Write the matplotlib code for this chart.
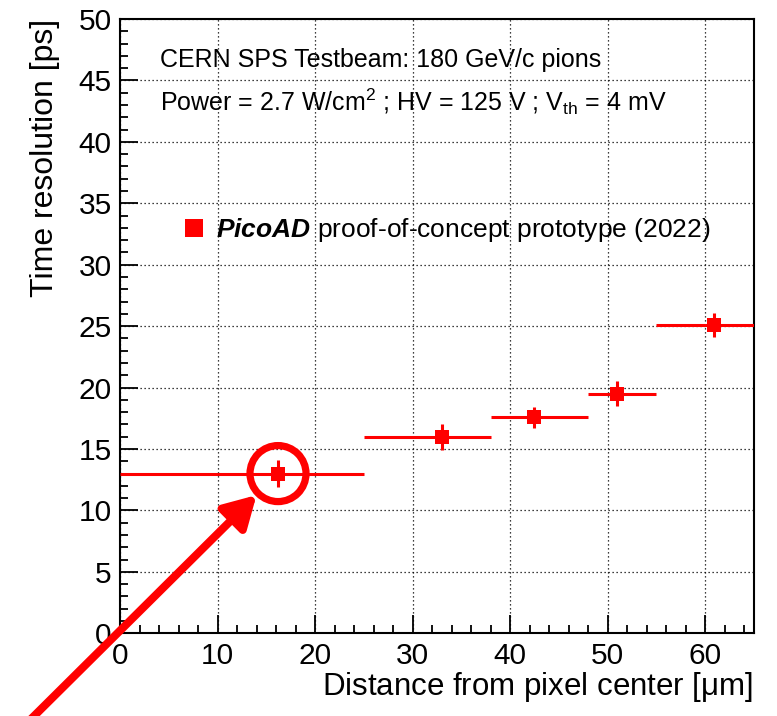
import matplotlib
matplotlib.use("Agg")
import matplotlib.pyplot as plt
from matplotlib.lines import Line2D
from matplotlib.patches import Ellipse
from matplotlib.ticker import MultipleLocator
import numpy as np

plt.rcParams['font.family'] = ['Liberation Sans', 'DejaVu Sans']
plt.rcParams['mathtext.fontset'] = 'custom'
plt.rcParams['mathtext.rm'] = 'Liberation Sans'
plt.rcParams['mathtext.it'] = 'Liberation Sans:italic'
plt.rcParams['mathtext.bf'] = 'Liberation Sans:bold'
plt.rcParams['mathtext.bfit'] = 'Liberation Sans:italic:bold'

# Time resolution versus distance from the pixel centre (bins in um)
distance = np.array([16.2, 33.0, 42.4, 51.0, 60.9])
bin_low = np.array([0.0, 25.0, 38.0, 48.0, 55.0])
bin_high = np.array([25.0, 38.0, 48.0, 55.0, 65.0])
resolution = np.array([13.0, 16.0, 17.6, 19.5, 25.1])
resolution_err = np.array([1.1, 1.05, 0.85, 1.0, 1.0])

RED = '#ff0000'

fig = plt.figure(figsize=(7.77, 7.16), dpi=100)
W, H = 777, 716
ax = fig.add_axes([120 / W, 1 - 633.3 / H, (754 - 120) / W, (633.3 - 19) / H])

ax.errorbar(distance, resolution,
            xerr=[distance - bin_low, bin_high - distance],
            yerr=resolution_err,
            fmt='s', color=RED, ms=10, elinewidth=2.2, capsize=0,
            markeredgewidth=0, zorder=3)

ax.set_xlim(0, 65)
ax.set_ylim(0, 50)

ax.xaxis.set_major_locator(MultipleLocator(10))
ax.xaxis.set_minor_locator(MultipleLocator(2))
ax.yaxis.set_major_locator(MultipleLocator(5))
ax.yaxis.set_minor_locator(MultipleLocator(1))
ax.tick_params(which='both', direction='in', top=False, right=False,
               width=1.3, labelsize=21.5, pad=6)
ax.tick_params(which='major', length=13)
ax.tick_params(which='minor', length=6)
for s in ax.spines.values():
    s.set_linewidth(1.5)

ax.grid(True, which='major', color='black', linestyle=(0, (1, 2.2)), linewidth=0.9)
ax.set_axisbelow(True)

ax.set_xlabel(r'Distance from pixel center [$\mathrm{\mu}$m]', fontsize=22.5, loc='right')
ax.set_ylabel('Time resolution [ps]', fontsize=23, loc='top')
ax.xaxis.set_label_coords(0.998, -0.059)
ax.yaxis.set_label_coords(-0.095, 1.0)

ax.text(0.063, 0.922, 'CERN SPS Testbeam: 180 GeV/c pions',
        transform=ax.transAxes, fontsize=18, va='baseline', ha='left')
ax.text(0.063, 0.8504,
        r'Power = 2.7 W/cm$^{2}$ ; HV = 125 V ; V$_{\mathrm{th}}$ = 4 mV',
        transform=ax.transAxes, fontsize=18, va='baseline', ha='left')

handle = Line2D([], [], marker='s', linestyle='none', color=RED,
                markersize=13, markeredgewidth=0)
ax.legend([handle], [r'$\mathbfit{PicoAD}$ proof-of-concept prototype (2022)'],
          loc='center left', bbox_to_anchor=(0.10, 0.656),
          frameon=False, fontsize=19, handlelength=0.8,
          handletextpad=0.45, borderaxespad=0, borderpad=0)

# highlight of the innermost bin
ring = Ellipse((distance[0], resolution[0]), width=2 * 28 / 9.754,
               height=2 * 28 / 12.286, fill=False, edgecolor=RED,
               linewidth=5.2, zorder=5, clip_on=False)
ax.add_patch(ring)

ax.annotate('', xy=(14.0, 11.25), xycoords='data',
            xytext=(22 / W, 1 - 728 / H), textcoords='figure fraction',
            arrowprops=dict(arrowstyle='-|>,head_length=1.05,head_width=0.6',
                            mutation_scale=18, color=RED, lw=5.8,
                            shrinkA=0, shrinkB=0),
            annotation_clip=False, zorder=6)

fig.savefig('out.png', dpi=100)
